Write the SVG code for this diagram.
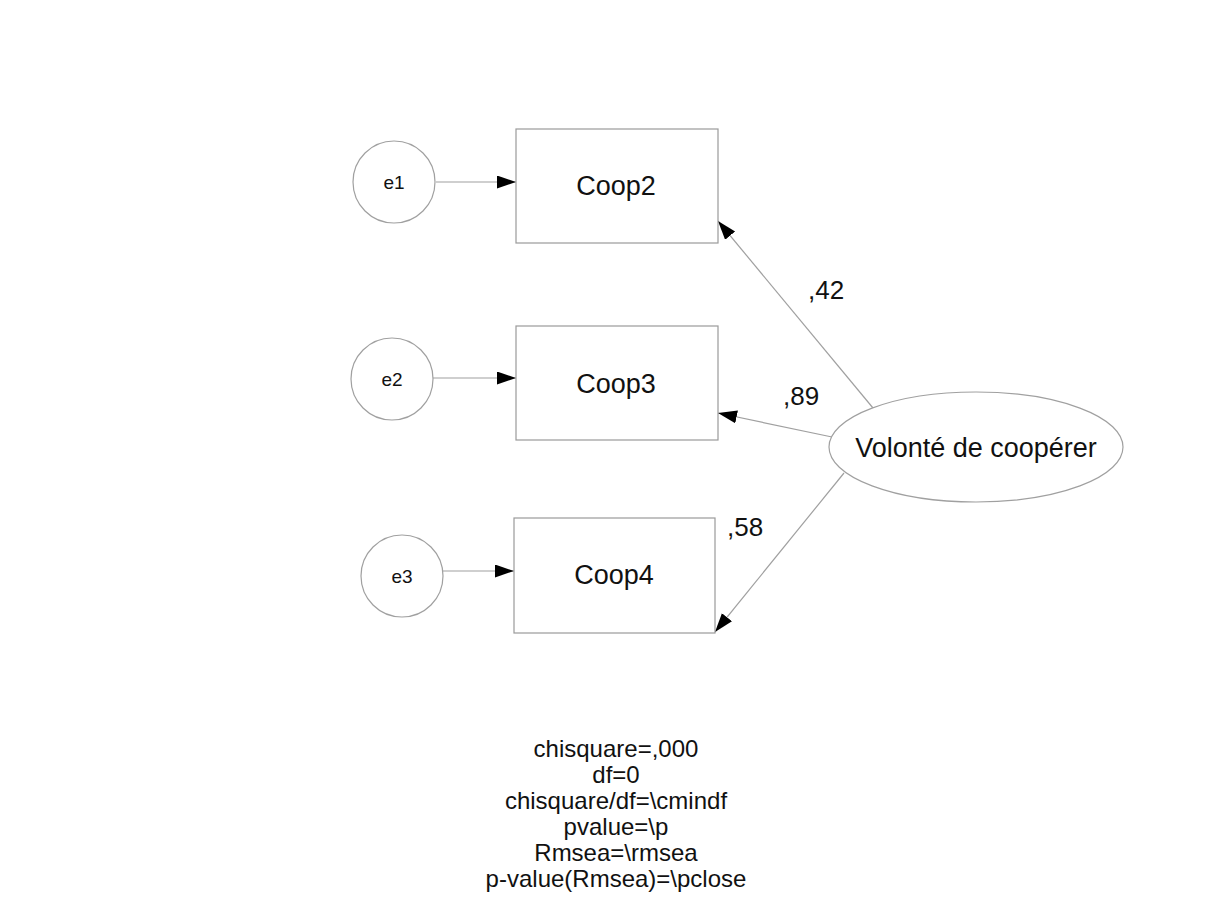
<svg xmlns="http://www.w3.org/2000/svg" width="1209" height="916" viewBox="0 0 1209 916">
<style>
.box{fill:#fff;stroke:#9a9a9a;stroke-width:1.2}
.lat{fill:#fff;stroke:#a0a0a0;stroke-width:1.2}
.t{font-family:"Liberation Sans",Arial,sans-serif;fill:#111;text-anchor:middle}
.big{font-size:27px}
.sm{font-size:19px}
.lbl{font-family:"Liberation Sans",Arial,sans-serif;fill:#111;font-size:26px}
.fit{font-family:"Liberation Sans",Arial,sans-serif;fill:#111;font-size:24px;text-anchor:middle}
.c{stroke:#a0a0a0;stroke-width:1.2;fill:none;marker-end:url(#ah)}
</style>
<defs>
<marker id="ah" markerUnits="userSpaceOnUse" markerWidth="20" markerHeight="14" refX="19" refY="6.5" orient="auto">
<path d="M0,0 L19,6.5 L0,13 z" fill="#000"/>
</marker>
</defs>
<rect width="1209" height="916" fill="#fff"/>
<g id="connectors">
<line class="c" x1="436" y1="182" x2="516" y2="182"/>
<line class="c" x1="433" y1="378" x2="516" y2="378"/>
<line class="c" x1="443" y1="571" x2="514" y2="571"/>
<line class="c" x1="873" y1="408" x2="718" y2="221"/>
<line class="c" x1="832" y1="437" x2="718" y2="413"/>
<line class="c" x1="844" y1="473" x2="715" y2="632"/>
</g>
<g id="labels">
<text class="lbl" x="808" y="299">,42</text>
<text class="lbl" x="783" y="405">,89</text>
<text class="lbl" x="727" y="536">,58</text>
</g>
<g id="e1"><circle class="lat" cx="394" cy="182" r="41"/><text class="t sm" x="394" y="189">e1</text></g>
<g id="e2"><circle class="lat" cx="392" cy="379" r="41"/><text class="t sm" x="392" y="386">e2</text></g>
<g id="e3"><circle class="lat" cx="402" cy="576" r="41"/><text class="t sm" x="402" y="583">e3</text></g>
<g id="Coop2"><rect class="box" x="516" y="129" width="202" height="114"/><text class="t big" x="616" y="195">Coop2</text></g>
<g id="Coop3"><rect class="box" x="516" y="326" width="202" height="114"/><text class="t big" x="616" y="393">Coop3</text></g>
<g id="Coop4"><rect class="box" x="514" y="518" width="201" height="115"/><text class="t big" x="614" y="584">Coop4</text></g>
<g id="Volonte"><ellipse class="lat" cx="976" cy="447" rx="147" ry="55"/><text class="t big" x="976" y="457">Volonté de coopérer</text></g>
<g id="fit">
<text class="fit" x="616" y="757">chisquare=,000</text>
<text class="fit" x="616" y="783">df=0</text>
<text class="fit" x="616" y="809">chisquare/df=\cmindf</text>
<text class="fit" x="616" y="835">pvalue=\p</text>
<text class="fit" x="616" y="861">Rmsea=\rmsea</text>
<text class="fit" x="616" y="887">p-value(Rmsea)=\pclose</text>
</g>
</svg>
